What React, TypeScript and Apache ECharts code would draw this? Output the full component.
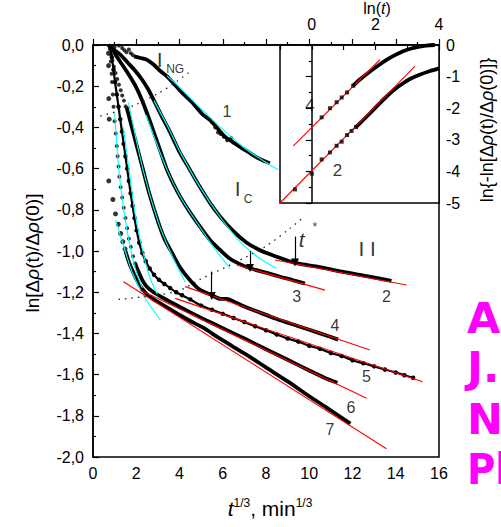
import React, { useEffect, useRef } from "react";
import * as echarts from "echarts";

// ---------- axes ----------
const mainX = { min: 0, max: 16, step: 2 };
const mainY = { min: -2, max: 0, step: 0.2 };
const insetX = { min: -1, max: 4, step: 1 };
const insetY = { min: -5, max: 0, step: 1 };

// ---------- main panel data: [t^(1/3), ln ratio] ----------
const curve1Dots = [[0.8,-0.005],[1.0,-0.01],[1.2,-0.003],[1.35,-0.015],[1.45,-0.025],[1.55,-0.035],[1.66,-0.022],[1.75,-0.04],[1.85,-0.05],[5.5,-0.375],[5.65,-0.4],[5.78,-0.425],[5.9,-0.432],[6.05,-0.445],[6.2,-0.462],[6.4,-0.452]];
const curve1Line = [[1.9,-0.055],[2.2,-0.063],[2.5,-0.072],[2.8,-0.095],[3.1,-0.125],[3.42,-0.152],[3.8,-0.195],[4.2,-0.24],[4.6,-0.28],[5.05,-0.335],[5.42,-0.365],[5.8,-0.41],[6.1,-0.445],[6.45,-0.47],[6.8,-0.495],[7.26,-0.525],[7.7,-0.553],[8.18,-0.574]];
const curve2Line = [[0.7,0],[1.0,-0.025],[1.3,-0.05],[1.6,-0.085],[1.95,-0.125],[2.28,-0.17],[2.55,-0.215],[2.82,-0.27],[3.15,-0.34],[3.5,-0.41],[4.03,-0.525],[4.45,-0.6],[4.95,-0.69],[5.4,-0.765],[5.88,-0.833],[6.5,-0.905],[7.11,-0.96],[7.7,-0.995],[8.34,-1.022],[9.34,-1.058],[10.5,-1.078],[11.5,-1.1],[12.65,-1.122],[13.8,-1.145]];
const curve3Line = [[0.85,-0.01],[1.12,-0.06],[1.51,-0.12],[1.97,-0.2],[2.35,-0.29],[2.8,-0.42],[3.1,-0.51],[3.4,-0.6],[3.7,-0.67],[4.03,-0.736],[4.5,-0.815],[4.95,-0.882],[5.4,-0.945],[5.88,-0.995],[6.3,-1.035],[6.72,-1.06],[7.26,-1.084],[8.0,-1.105],[8.65,-1.125],[9.2,-1.14],[9.8,-1.158]];
const curve4Dots = [[0.85,-0.05],[0.9,-0.075],[0.97,-0.105],[1.04,-0.136],[1.12,-0.165],[1.2,-0.193],[1.28,-0.22],[1.35,-0.245],[1.43,-0.27],[1.51,-0.298]];
const curve4Line = [[1.55,-0.3],[1.75,-0.38],[1.95,-0.46],[2.1,-0.52],[2.3,-0.6],[2.6,-0.72],[3.0,-0.855],[3.3,-0.94],[3.66,-1.01],[4.0,-1.075],[4.43,-1.135],[4.9,-1.185],[5.5,-1.215],[5.9,-1.232],[6.2,-1.232],[6.5,-1.245],[7.0,-1.27],[7.5,-1.29],[8.5,-1.33],[9.5,-1.365],[10.5,-1.4],[11.34,-1.43]];
const curve5Beads = [[0.8,-0.01],[0.87,-0.06],[0.95,-0.12],[1.02,-0.18],[1.1,-0.24],[1.18,-0.3],[1.26,-0.36],[1.34,-0.42],[1.42,-0.48],[1.5,-0.54],[1.58,-0.6],[1.66,-0.66],[1.74,-0.72],[1.83,-0.78],[1.92,-0.84],[2.02,-0.9],[2.14,-0.96],[2.28,-1.01],[2.44,-1.05],[2.62,-1.085],[2.82,-1.115],[3.05,-1.14],[3.3,-1.16],[3.57,-1.18],[3.85,-1.2],[4.12,-1.215],[4.5,-1.235],[5.0,-1.265],[5.5,-1.285],[6.0,-1.305],[6.5,-1.325],[7.0,-1.345],[7.5,-1.365],[8.0,-1.385],[8.5,-1.405],[9.0,-1.425],[9.5,-1.44],[10.0,-1.46],[10.5,-1.475],[11.0,-1.495],[11.5,-1.51],[12.0,-1.53],[12.5,-1.545],[13.0,-1.56],[13.5,-1.575],[14.0,-1.59],[14.4,-1.603],[14.8,-1.615]];
const curve6Dots = [[0.78,-0.02],[0.82,-0.08],[0.86,-0.14],[0.88,-0.18],[0.92,-0.24],[0.95,-0.3],[1.0,-0.37],[1.05,-0.43],[1.1,-0.49],[1.14,-0.54],[1.18,-0.59],[1.22,-0.64],[1.28,-0.69],[1.35,-0.74],[1.42,-0.79],[1.5,-0.84],[1.58,-0.89],[1.66,-0.94],[1.75,-0.98],[1.85,-1.025],[1.95,-1.06]];
const curve6Line = [[1.95,-1.06],[2.1,-1.1],[2.3,-1.145],[2.5,-1.175],[2.8,-1.2],[3.2,-1.225],[3.6,-1.248],[4.0,-1.27],[4.5,-1.298],[5.05,-1.327],[6.0,-1.375],[7.0,-1.425],[8.0,-1.477],[9.0,-1.528],[10.0,-1.58],[10.7,-1.615],[11.3,-1.64]];
const curve7Dots = [[0.72,-0.04],[0.72,-0.1],[0.73,-0.26],[0.75,-0.36],[0.73,-0.66],[0.92,-0.75],[1.04,-0.82],[1.17,-0.87],[1.28,-0.915],[1.38,-0.955],[1.48,-0.99]];
const curve7Line = [[1.5,-1.0],[1.65,-1.05],[1.8,-1.09],[2.0,-1.135],[2.25,-1.18],[2.5,-1.21],[2.8,-1.235],[3.2,-1.26],[3.6,-1.285],[4.0,-1.31],[4.5,-1.34],[5.05,-1.37],[5.8,-1.42],[6.49,-1.465],[7.2,-1.51],[8.0,-1.565],[9.0,-1.633],[10.0,-1.705],[10.8,-1.76],[11.9,-1.838]];

// cyan fits (region I_C)
const cyan1 = [[3.42,-0.15],[4.0,-0.205],[5.0,-0.31],[6.0,-0.41],[7.0,-0.5],[8.0,-0.57],[8.57,-0.606]];
const cyan2 = [[2.82,-0.27],[3.5,-0.405],[4.03,-0.52],[4.95,-0.69],[5.88,-0.835],[6.8,-0.955],[7.7,-1.035],[8.49,-1.085]];
const cyan3 = [[2.45,-0.34],[3.4,-0.6],[4.03,-0.735],[4.95,-0.885],[5.6,-0.985],[6.34,-1.084]];
const cyan4 = [[1.64,-0.28],[2.3,-0.6],[3.0,-0.855],[3.6,-1.01],[4.26,-1.15]];
const cyan5 = [[1.4,-0.4],[1.66,-0.6],[1.95,-0.82],[2.3,-1.0],[2.6,-1.12],[2.97,-1.21]];
const cyan6 = [[1.0,-0.33],[1.2,-0.61],[1.42,-0.8],[1.7,-0.97],[2.0,-1.1],[2.28,-1.18]];
const cyan7 = [[1.04,-0.85],[1.4,-0.97],[1.8,-1.1],[2.2,-1.19],[2.6,-1.26],[3.12,-1.335]];

// red fits (region II)
const red2 = [[8.42,-1.044],[14.5,-1.165]];
const red3 = [[6.65,-1.068],[10.73,-1.19]];
const red4 = [[4.26,-1.173],[12.8,-1.481]];
const red5 = [[3.8,-1.23],[15.24,-1.635]];
const red6 = [[2.2,-1.19],[12.65,-1.715]];
const red7 = [[1.41,-1.149],[13.57,-1.96]];

// dotted boundaries
const boundaryNG = [[0.34,-0.345],[1.12,-0.322],[1.97,-0.29],[3.05,-0.233],[3.9,-0.175],[4.49,-0.128]];
const boundaryT = [[1.18,-1.235],[2.95,-1.214],[4.03,-1.19],[4.95,-1.138],[6.4,-1.065],[7.96,-0.979],[9.11,-0.89],[9.8,-0.83]];

// t* arrows [x, yFrom, yTo]
const arrows = [[5.49,-1.1,-1.218],[7.26,-1.0,-1.082],[9.34,-0.93,-1.056]];

// annotations [text, x, y, fontSize, italic]
const mainNotes: [string, number, number, number, boolean][] = [
  ["I", 3.08, -0.072, 21, false],
  ["NG", 3.8, -0.118, 12, false],
  ["1", 6.19, -0.323, 16, false],
  ["I", 6.69, -0.699, 21, false],
  ["C", 7.17, -0.747, 12, false],
  ["t", 9.65, -0.946, 21, true],
  ["*", 10.26, -0.885, 12, false],
  ["I I", 12.68, -0.987, 21, false],
  ["2", 13.57, -1.222, 16, false],
  ["3", 9.42, -1.222, 16, false],
  ["4", 11.19, -1.36, 16, false],
  ["5", 12.65, -1.611, 16, false],
  ["6", 11.93, -1.76, 16, false],
  ["7", 10.96, -1.867, 16, false],
];

// ---------- inset data: [ln t, ln(-ln ratio)] ----------
const inset4Dots = [[0.31,-2.29],[0.57,-2.0],[0.78,-1.81],[0.94,-1.66],[1.11,-1.5],[1.3,-1.29]];
const inset4Line = [[1.3,-1.29],[1.5,-1.1],[1.83,-0.84],[2.1,-0.64],[2.35,-0.47],[2.6,-0.33],[2.87,-0.2],[3.1,-0.12],[3.39,-0.05],[3.6,-0.02],[3.87,0]];
const inset2Dots = [[-0.53,-4.57],[0.0,-4.07],[0.31,-3.62],[0.57,-3.4],[0.78,-3.19],[0.94,-3.06],[1.11,-2.85],[1.25,-2.72],[1.39,-2.6]];
const inset2Line = [[1.39,-2.6],[1.6,-2.39],[1.83,-2.16],[2.1,-1.88],[2.35,-1.63],[2.6,-1.41],[2.87,-1.21],[3.1,-1.07],[3.39,-0.94],[3.7,-0.83],[4.0,-0.74]];
const inset4Red = [[-0.58,-3.19],[2.14,-0.467]];
const inset2Red = [[-1,-5],[3.24,-0.68]];
const insetNotes: [string, number, number, number, boolean][] = [
  ["4", -0.06, -1.93, 17, false],
  ["2", 0.81, -3.96, 17, false],
];

const FONT = "'Liberation Sans', Arial, sans-serif";

export default function App() {
  const ref = useRef<HTMLDivElement>(null);
  useEffect(() => {
    if (!ref.current) return;
    const chart = echarts.init(ref.current, undefined, { renderer: "svg" });

    const line = (data: number[][], width: number, color: string, gi = 0, z = 2, extra: any = {}) => ({
      type: "line", data, xAxisIndex: gi, yAxisIndex: gi, symbol: "none", showSymbol: false,
      smooth: 0.3, lineStyle: { width, color }, z, silent: true, ...extra,
    });
    const dots = (data: number[][], size: number, gi = 0, z = 2, symbol = "circle") => ({
      type: "scatter", data, xAxisIndex: gi, yAxisIndex: gi, symbol, symbolSize: size,
      itemStyle: { color: "#000" }, z, silent: true,
    });
    const notes = (list: [string, number, number, number, boolean][], gi: number, z: number) => ({
      type: "scatter", xAxisIndex: gi, yAxisIndex: gi, symbolSize: 1, z, silent: true,
      itemStyle: { color: "rgba(0,0,0,0)" },
      label: { show: true, position: "inside", formatter: "{b}", color: "#000", fontFamily: FONT },
      data: list.map(([t, x, y, fs, it]) => ({
        name: t, value: [x, y],
        label: { fontSize: fs, fontStyle: it ? "italic" : "normal" },
      })),
    });

    const CY = "#00FFFF", RD = "#FF0000";
    const tick = { show: true, inside: true, length: 6, lineStyle: { color: "#000", width: 1.2 } };
    const minor = { show: true, splitNumber: 2, length: 3, lineStyle: { color: "#000", width: 1.2 } };
    const axLine = { show: true, lineStyle: { color: "#000", width: 1.5 } };
    const lbl = { color: "#000", fontSize: 16, fontFamily: FONT };

    const magenta: [string, number, string][] = [
      ["A", 318, "'DejaVu Sans', sans-serif"],
      ["J.", 367, "'DejaVu Sans', sans-serif"],
      ["N", 419, "'DejaVu Sans', sans-serif"],
      ["Ph", 469, "'Liberation Sans Narrow', 'DejaVu Sans Condensed', sans-serif"],
    ];

    const option: any = {
      animation: false,
      textStyle: { fontFamily: FONT },
      grid: [
        { left: 93, top: 45, right: 62, bottom: 70, show: true, borderColor: "#000", borderWidth: 1.5, z: 0 },
        { left: 280, top: 45, right: 62, bottom: 324, show: true, backgroundColor: "#fff", borderColor: "#000", borderWidth: 1.5, z: 3 },
      ],
      xAxis: [
        { type: "value", gridIndex: 0, min: mainX.min, max: mainX.max, interval: mainX.step,
          axisLine: axLine, axisTick: tick, minorTick: minor, splitLine: { show: false },
          axisLabel: { ...lbl, margin: 8 } },
        { type: "value", gridIndex: 1, position: "top", min: insetX.min, max: insetX.max, interval: insetX.step, z: 4,
          axisLine: axLine, axisTick: { ...tick, length: 5 }, splitLine: { show: false },
          axisLabel: { ...lbl, margin: 13, formatter: (v: number) => (Math.round(v) % 2 === 0 ? String(Math.round(v)) : "") } },
      ],
      yAxis: [
        { type: "value", gridIndex: 0, min: mainY.min, max: mainY.max, interval: mainY.step,
          axisLine: axLine, axisTick: tick, minorTick: minor, splitLine: { show: false },
          axisLabel: { ...lbl, margin: 9, formatter: (v: number) => (Math.abs(v) < 1e-9 ? "0,0" : v.toFixed(1).replace(".", ",")) } },
        { type: "value", gridIndex: 1, position: "right", min: insetY.min, max: insetY.max, interval: insetY.step, z: 4,
          axisLine: axLine, axisTick: tick, minorTick: minor, splitLine: { show: false },
          axisLabel: { ...lbl, margin: 7 } },
      ],
      series: [
        // black measured curves
        dots(curve1Dots, 4),
        line(curve1Line, 3.8, "#000"),
        line(curve2Line, 3.8, "#000"),
        line(curve3Line, 3.8, "#000"),
        dots(curve4Dots, 4),
        line(curve4Line, 3.8, "#000"),
        line(curve5Beads, 2.2, "#000", 0, 2, { showSymbol: true, symbol: "circle", symbolSize: 4.5, itemStyle: { color: "#000" } }),
        dots(curve6Dots, 4),
        line(curve6Line, 3.8, "#000"),
        dots(curve7Dots, 5),
        line(curve7Line, 3.8, "#000"),
        // cyan fits
        ...[cyan1, cyan2, cyan3, cyan4, cyan5, cyan6, cyan7].map((d) => line(d, 1.1, CY, 0, 3)),
        // red fits
        ...[red2, red3, red4, red5, red6, red7].map((d) => line(d, 1.1, RD, 0, 3, { smooth: false })),
        // dotted boundaries
        line(boundaryNG, 1.3, "#222", 0, 3, { lineStyle: { width: 1.3, color: "#222", type: [1.5, 5] } }),
        line(boundaryT, 1.3, "#222", 0, 3, { lineStyle: { width: 1.3, color: "#222", type: [1.5, 5] } }),
        // arrows
        {
          type: "line", data: [], xAxisIndex: 0, yAxisIndex: 0, z: 4, silent: true,
          markLine: {
            silent: true, symbol: ["none", "triangle"], symbolSize: 8, symbolRotate: 180, label: { show: false },
            lineStyle: { color: "#000", width: 1.2, type: "solid" },
            data: arrows.map(([x, y0, y1]) => [{ coord: [x, y0] }, { coord: [x, y1] }]),
          },
        },
        notes(mainNotes, 0, 6),
        // inset
        line(inset4Red, 1.1, RD, 1, 6, { smooth: false }),
        line(inset2Red, 1.1, RD, 1, 6, { smooth: false }),
        dots(inset4Dots, 4, 1, 7, "rect"),
        line(inset4Line, 3.8, "#000", 1, 5),
        dots(inset2Dots, 4, 1, 7, "rect"),
        line(inset2Line, 3.8, "#000", 1, 5),
        notes(insetNotes, 1, 7),
      ],
      graphic: [
        { type: "text", x: 32, y: 253, rotation: Math.PI / 2, z: 10,
          style: { text: "ln[Δ{i|ρ}(t)/Δ{i|ρ}(0)]", fill: "#000", font: `19px ${FONT}`, align: "center", verticalAlign: "middle",
            rich: { i: { fontStyle: "italic", fontSize: 19, fontFamily: FONT } } } },
        { type: "text", x: 487, y: 130, rotation: Math.PI / 2, z: 10,
          style: { text: "ln{-ln[Δ{i|ρ}(t)/Δ{i|ρ}(0)]}", fill: "#000", font: `18px ${FONT}`, align: "center", verticalAlign: "middle",
            rich: { i: { fontStyle: "italic", fontSize: 18, fontFamily: FONT } } } },
        { type: "text", x: 270, y: 508, z: 10,
          style: { text: "{i|t}{s|1/3}{n|, min}{s|1/3}", fill: "#000", align: "center", verticalAlign: "middle",
            rich: {
              i: { fontStyle: "italic", fontSize: 21, fontFamily: FONT, verticalAlign: "bottom", lineHeight: 22 },
              n: { fontSize: 21, fontFamily: FONT, verticalAlign: "bottom", lineHeight: 22 },
              s: { fontSize: 12, fontFamily: FONT, verticalAlign: "top", lineHeight: 22 },
            } } },
        { type: "text", x: 377, y: 8, z: 10,
          style: { text: "ln({i|t})", fill: "#000", font: `16px ${FONT}`, align: "center", verticalAlign: "middle",
            rich: { i: { fontStyle: "italic", fontSize: 16, fontFamily: FONT } } } },
        ...magenta.map(([t, y, fam]) => ({
          type: "text", x: 467, y, z: 10,
          style: { text: t, fill: "#FF00FF", font: `bold 43px ${fam}`, align: "left", verticalAlign: "middle" },
        })),
      ],
    };
    chart.setOption(option);
    return () => chart.dispose();
  }, []);
  return (
    <div
      ref={ref}
      style={{ position: "fixed", left: 0, top: 0, width: 501, height: 527, background: "#fff" }}
    />
  );
}
